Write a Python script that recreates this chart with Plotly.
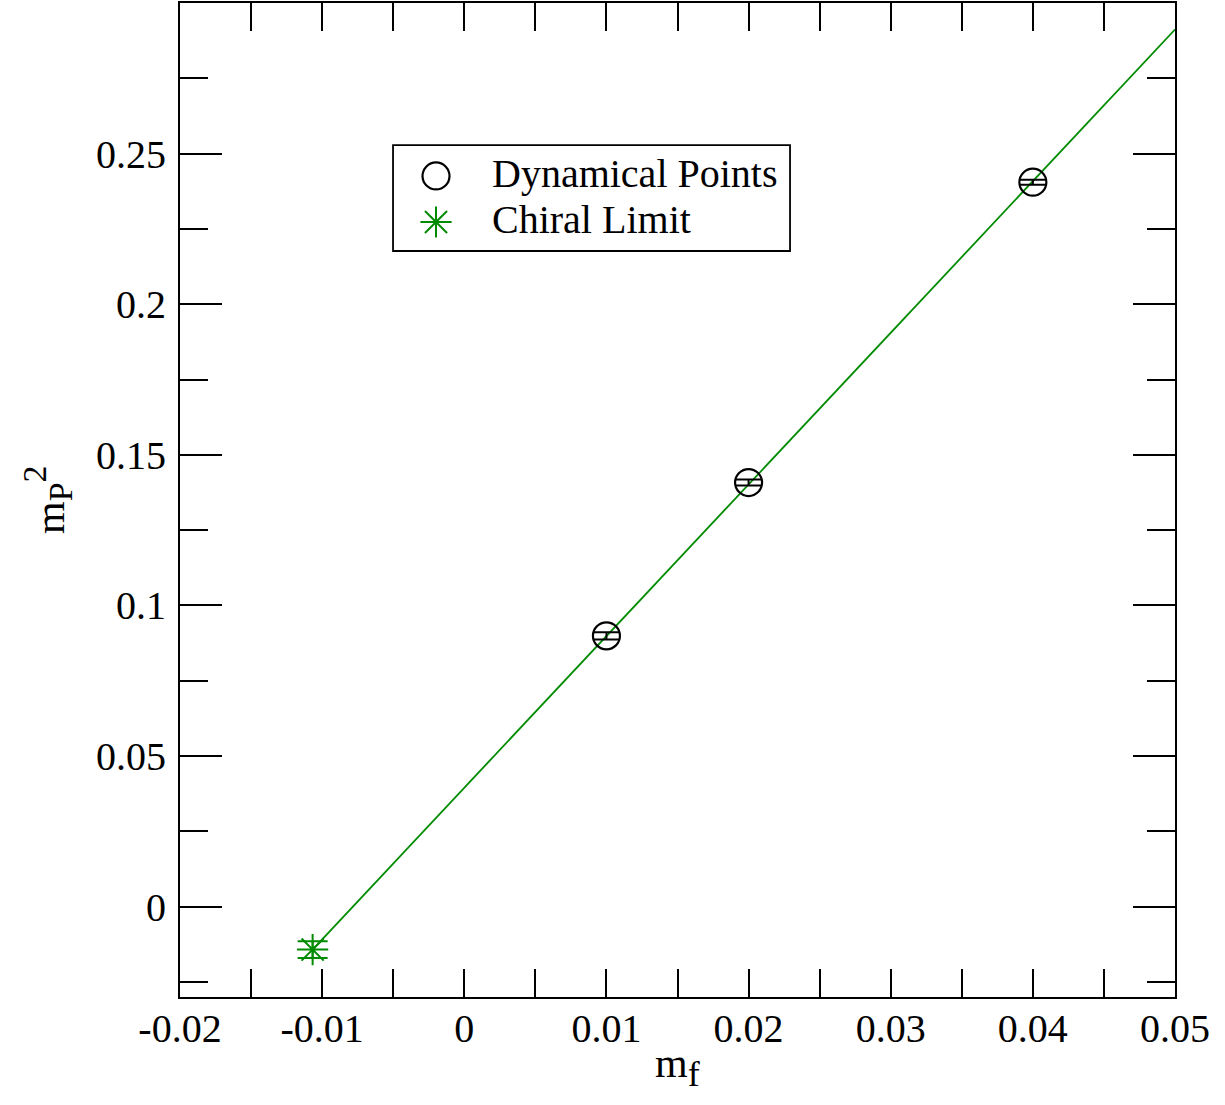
import plotly.graph_objects as go

# ---- data ----
mf_dyn = [0.01, 0.02, 0.04]
mp2_dyn = [0.0899, 0.1408, 0.2405]
mp2_dyn_err = [0.0012, 0.0010, 0.0008]

mf_chiral = [-0.01067]
mp2_chiral = [-0.01426]
mp2_chiral_err = [0.0028]

fit_x = [-0.01067, 0.05]
fit_y = [-0.01426, 0.2912]

x_tickvals = [-0.02, -0.01, 0, 0.01, 0.02, 0.03, 0.04, 0.05]
x_ticktext = ["-0.02", "-0.01", "0", "0.01", "0.02", "0.03", "0.04", "0.05"]
y_tickvals = [0, 0.05, 0.1, 0.15, 0.2, 0.25]
y_ticktext = ["0", "0.05", "0.1", "0.15", "0.2", "0.25"]

legend_names = ["Dynamical Points", "Chiral Limit"]
x_title = "m<sub><span style='font-size:36px'>f</span></sub>"
y_title = "m<sub><span style='font-size:34px'>P</span></sub><sup><span style='font-size:34px'>2</span></sup>"

GREEN = "#008B00"
FONT = "Liberation Serif"
FS = 40

fig = go.Figure()

fig.add_trace(go.Scatter(
    x=fit_x, y=fit_y, mode="lines",
    line=dict(color=GREEN, width=1.8), showlegend=False, hoverinfo="skip"))

fig.add_trace(go.Scatter(
    x=mf_dyn, y=mp2_dyn, mode="markers",
    marker=dict(symbol="circle-open", size=27, color="black", line=dict(width=2.2, color="black")),
    error_y=dict(type="data", array=mp2_dyn_err, visible=True, color="black", thickness=2, width=13),
    showlegend=False))

fig.add_trace(go.Scatter(
    x=mf_chiral, y=mp2_chiral, mode="markers",
    marker=dict(symbol="asterisk-open", size=26, color=GREEN, line=dict(width=2, color=GREEN)),
    error_y=dict(type="data", array=mp2_chiral_err, visible=True, color=GREEN, thickness=2, width=15),
    showlegend=False))

# ---- manual legend (overlay axes in [0,1]) ----
leg_sym_x = [0.2573, 0.2573]
leg_sym_y = [0.8260, 0.7797]
fig.add_trace(go.Scatter(
    x=[leg_sym_x[0]], y=[leg_sym_y[0]], xaxis="x2", yaxis="y2", mode="markers",
    marker=dict(symbol="circle-open", size=27, color="black", line=dict(width=2.2, color="black")),
    showlegend=False, hoverinfo="skip"))
fig.add_trace(go.Scatter(
    x=[leg_sym_x[1]], y=[leg_sym_y[1]], xaxis="x2", yaxis="y2", mode="markers",
    marker=dict(symbol="asterisk-open", size=26, color=GREEN, line=dict(width=2, color=GREEN)),
    showlegend=False, hoverinfo="skip"))

fig.add_shape(type="rect", xref="paper", yref="paper",
              x0=0.2141, x1=0.6131, y0=0.7505, y1=0.8571,
              line=dict(color="black", width=1.8), fillcolor="rgba(0,0,0,0)")
for name, yy in zip(legend_names, leg_sym_y):
    fig.add_annotation(xref="paper", yref="paper", x=0.3118, y=yy + 0.002, text=name,
                       showarrow=False, xanchor="left", yanchor="middle",
                       font=dict(family=FONT, size=FS, color="black"))

# axis titles as annotations
fig.add_annotation(xref="paper", yref="paper", x=0.5, y=0, text=x_title,
                   showarrow=False, xanchor="center", yanchor="top", yshift=-41,
                   font=dict(family=FONT, size=42, color="black"))
fig.add_annotation(xref="paper", yref="paper", x=0, y=0.5, text=y_title, textangle=-90,
                   showarrow=False, xanchor="center", yanchor="middle", xshift=-133,
                   font=dict(family=FONT, size=42, color="black"))

axis_common = dict(
    showgrid=False, zeroline=False, showline=True, linecolor="black", linewidth=2,
    mirror="ticks", ticks="inside", tickcolor="black", tickwidth=2, automargin=False,
    tickfont=dict(family=FONT, size=FS, color="black"),
)

fig.update_layout(
    width=1225, height=1105,
    margin=dict(l=180, r=50, t=3, b=108),
    paper_bgcolor="white", plot_bgcolor="white",
    showlegend=False,
    xaxis=dict(
        range=[-0.02, 0.05], tickvals=x_tickvals, ticktext=x_ticktext, ticklen=28,
        minor=dict(dtick=0.005, tick0=0, ticklen=28, tickwidth=2, tickcolor="black", ticks="inside"),
        ticklabelstandoff=-5,
        **axis_common),
    yaxis=dict(
        range=[-0.03, 0.3], tickvals=y_tickvals, ticktext=y_ticktext, ticklen=42,
        minor=dict(dtick=0.025, tick0=0, ticklen=28, tickwidth=2, tickcolor="black", ticks="inside"),
        ticklabelstandoff=4,
        **axis_common),
    xaxis2=dict(range=[0, 1], domain=[0, 1], overlaying="x", visible=False, fixedrange=True),
    yaxis2=dict(range=[0, 1], domain=[0, 1], overlaying="y", visible=False, fixedrange=True),
)

fig.write_html("out.html", config={"displayModeBar": False},
               post_script="document.body.style.margin='0';")
